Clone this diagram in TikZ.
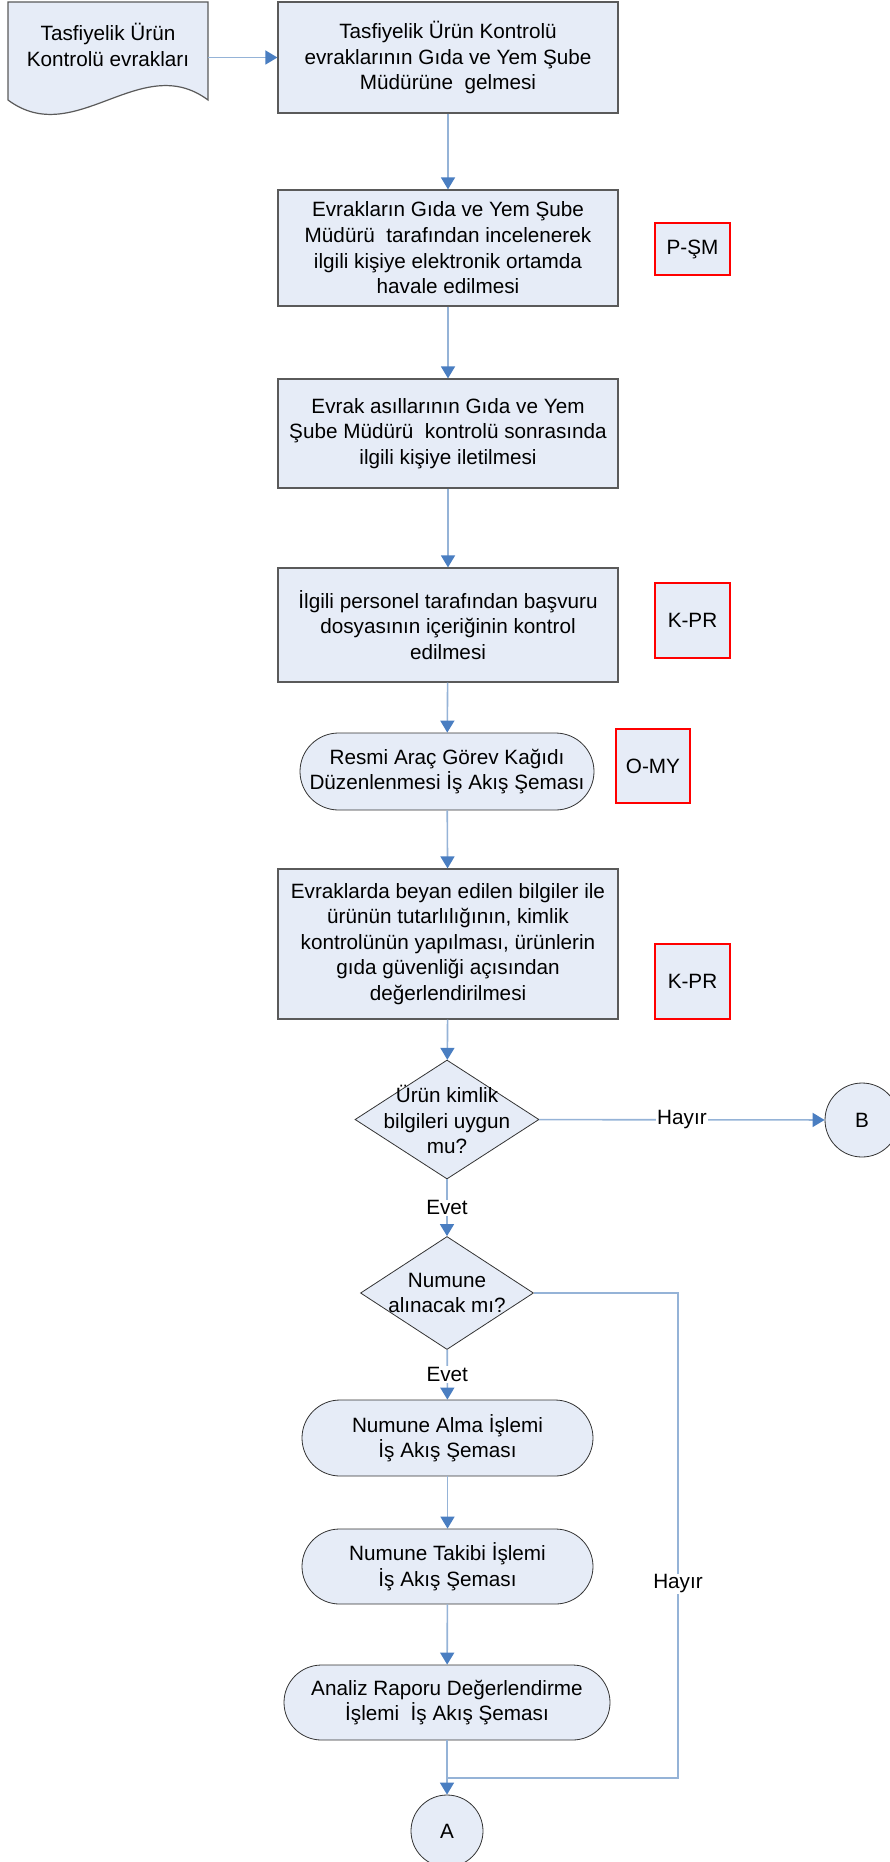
\documentclass[tikz,border=0pt]{standalone}
\usepackage{fontspec}
\setmainfont{Liberation Sans}
\usetikzlibrary{shapes.geometric, shapes.misc, arrows.meta}

\definecolor{boxfill}{RGB}{230,236,247}
\definecolor{boxline}{RGB}{90,90,90}
\definecolor{flowline}{RGB}{149,179,215}
\definecolor{flowhead}{RGB}{74,126,193}

\begin{document}
\begin{tikzpicture}[x=1pt, y=-1pt,
	every node/.style={font=\fontsize{20.7pt}{25.6pt}\selectfont, align=center, inner sep=0pt},
	proc/.style={draw=boxline, fill=boxfill, line width=1.2pt, minimum width=340pt},
	oval/.style={rounded rectangle, draw=black!80, fill=boxfill, line width=0.8pt},
	decision/.style={diamond, draw=black!80, fill=boxfill, line width=0.8pt},
	conn/.style={circle, draw=black!80, fill=boxfill, line width=0.8pt, minimum size=74pt},
	tag/.style={draw=red, fill=boxfill, line width=2.4pt},
	flow/.style={draw=flowline, line width=1.6pt, -{Triangle[length=12pt, width=14pt, color=flowhead]}},
	plain/.style={draw=flowline, line width=1.6pt},
	lbl/.style={fill=white, inner sep=1pt}]
				\useasboundingbox (0,0) rectangle (889,1862);

				% Nodes
				\filldraw[draw=boxline, fill=boxfill, line width=1.2pt] (8,2) -- (208,2) -- (208,100) .. controls (141,50) and (75,150) .. (8,100) -- cycle;
				\node[minimum width=200pt, minimum height=86pt] (doc) at (108,45) {Tasfiyelik Ürün\\Kontrolü evrakları};
				\node[proc, minimum height=111pt] (gelis) at (448,57.5) {Tasfiyelik Ürün Kontrolü\\evraklarının Gıda ve Yem Şube\\Müdürüne~ gelmesi};
				\node[proc, minimum height=116pt] (havale) at (448,248) {Evrakların Gıda ve Yem Şube\\Müdürü~ tarafından incelenerek\\ilgili kişiye elektronik ortamda\\havale edilmesi};
				\node[proc, minimum height=109pt] (asil) at (448,433.5) {Evrak asıllarının Gıda ve Yem\\Şube Müdürü~ kontrolü sonrasında\\ilgili kişiye iletilmesi};
				\node[proc, minimum height=114pt] (icerik) at (448,625) {İlgili personel tarafından başvuru\\dosyasının içeriğinin kontrol\\edilmesi};
				\node[oval, minimum width=294pt, minimum height=77pt] (arac) at (447,771.5) {};
				\node (arac-t) at (arac) {Resmi Araç Görev Kağıdı\\Düzenlenmesi İş Akış Şeması};
				\node[proc, minimum height=150pt] (beyan) at (448,944) {Evraklarda beyan edilen bilgiler ile\\ürünün tutarlılığının, kimlik\\kontrolünün yapılması, ürünlerin\\gıda güvenliği açısından\\değerlendirilmesi};
				\node[decision, minimum width=184pt, minimum height=119pt] (kimlik) at (447,1119.5) {};
				\node (kimlik-t) at (kimlik) {Ürün kimlik\\bilgileri uygun\\mu?};
				\node[conn] (B) at (862,1120) {B};
				\node[decision, minimum width=173pt, minimum height=113pt] (numune) at (447,1293) {};
				\node (numune-t) at (numune) {Numune\\alınacak mı?};
				\node[oval, minimum width=291pt, minimum height=76pt] (alma) at (447.5,1438) {};
				\node (alma-t) at (alma) {Numune Alma İşlemi\\İş Akış Şeması};
				\node[oval, minimum width=291pt, minimum height=75pt] (takip) at (447.5,1566.5) {};
				\node (takip-t) at (takip) {Numune Takibi İşlemi\\İş Akış Şeması};
				\node[oval, minimum width=326pt, minimum height=75pt] (analiz) at (447,1702.5) {};
				\node (analiz-t) at (analiz) {Analiz Raporu Değerlendirme\\İşlemi~ İş Akış Şeması};
				\node[conn, minimum size=72pt] (A) at (447,1831) {A};

				% Tags
				\node[tag, minimum width=75pt, minimum height=52pt] (psm) at (692.5,249) {P-ŞM};
				\node[tag, minimum width=75pt, minimum height=75pt] (kpr1) at (692.5,620.5) {K-PR};
				\node[tag, minimum width=74pt, minimum height=74pt] (omy) at (653,766) {O-MY};
				\node[tag, minimum width=75pt, minimum height=75pt] (kpr2) at (692.5,981.5) {K-PR};

				% Edges
				\coordinate (loop) at (678,1778);
				\draw[flow] (gelis.west -| doc.east) -- (gelis.west);
				\draw[flow] (gelis) -- (havale);
				\draw[flow] (havale) -- (asil);
				\draw[flow] (asil) -- (icerik);
				\draw[flow] (icerik) -- (arac);
				\draw[flow] (arac) -- (beyan);
				\draw[flow] (beyan) -- (kimlik);
				\draw[flow] (kimlik) -- node[lbl] {Hayır} (B);
				\draw[flow] (kimlik) -- node[lbl] {Evet} (numune);
				\draw[flow] (numune) -- node[lbl] {Evet} (alma);
				\draw[flow] (alma) -- (takip);
				\draw[flow] (takip) -- (analiz);
				\draw[flow] (analiz) -- (A);
				\draw[plain] (numune.east) -| node[lbl, pos=0.8] {Hayır} (loop) -- (loop -| A);
			\end{tikzpicture}
\end{document}
